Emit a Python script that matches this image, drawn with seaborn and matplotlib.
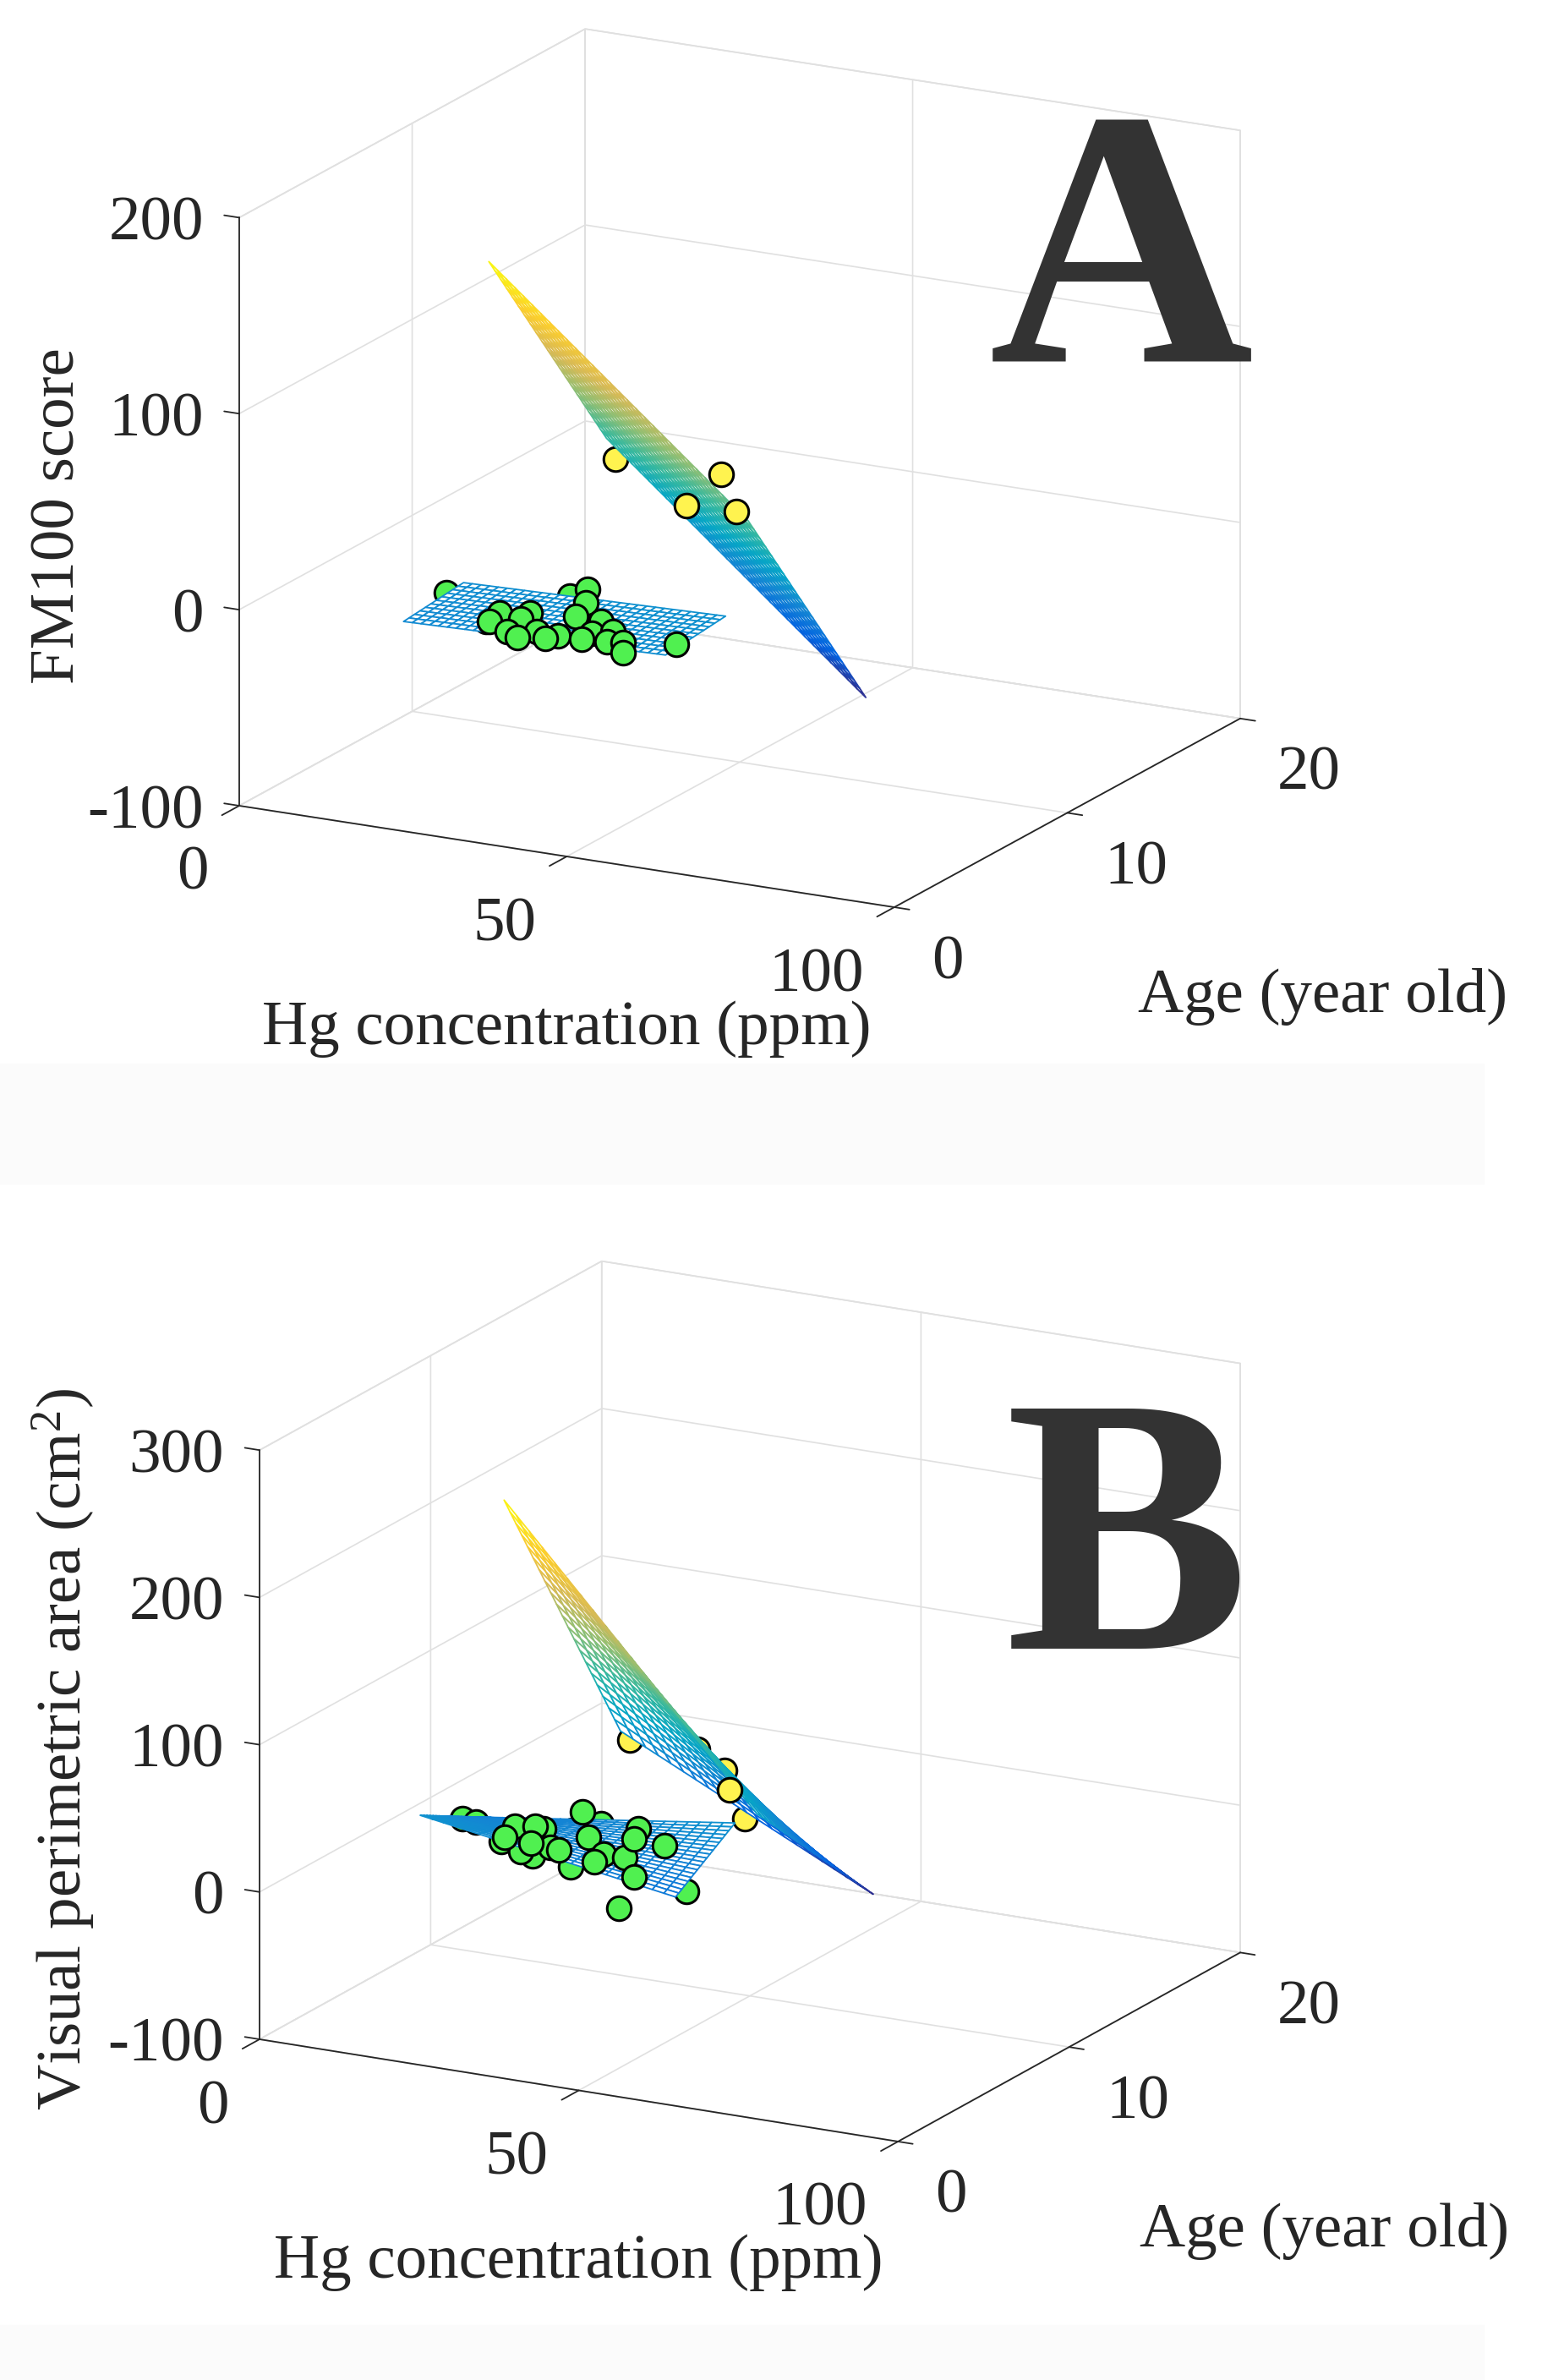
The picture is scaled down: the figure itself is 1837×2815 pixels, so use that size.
import numpy as np
import matplotlib
matplotlib.use("Agg")
import matplotlib.pyplot as plt
import seaborn as sns
from matplotlib.colors import Normalize
from matplotlib.ticker import NullFormatter
from matplotlib.transforms import offset_copy
from matplotlib.patches import Rectangle

#%% data
# green group: Hg (ppm), age (year old), FM100 score, visual perimetric area (cm2)
green_hg = [18.8, 23.3, 31.9, 31.2, 35.4, 35.0, 35.8, 38.6, 39.6, 42.4, 43.4, 36.7, 34.8, 38.1,
            40.6, 42.0, 46.8, 46.8, 45.8, 50.6, 49.6, 53.1, 55.2, 46.4, 52.6, 60.2, 34.7, 28.5]
green_age = [4.86, 3.97, 2.40, 3.26, 2.89, 3.54, 1.92, 1.44, 2.20, 1.65, 1.98, 4.61, 5.91, 5.73,
             4.67, 3.56, 2.08, 2.66, 3.59, 2.11, 2.82, 2.07, 1.30, 4.84, 4.05, 2.47, 3.00, 3.50]
green_fm100 = [-4.9, -6.3, -1.0, -1.2, -0.2, -0.6, -2.0, -1.2, -1.4, -0.7, -0.3, -3.5, -3.5, 2.6,
               1.9, 1.0, -0.9, -0.4, 0.4, -0.5, 1.0, 0.7, 0.2, -3.4, -3.6, 1.7, -8.0, -8.0]
green_vpa = [31.5, 38.5, 44.0, 45.4, 50.6, 44.5, 40.0, 50.7, 43.6, 47.2, 34.6, 37.6, 40.4, 36.1,
             38.3, 43.3, 39.8, 41.1, 39.0, 10.7, 39.9, 59.5, 40.1, 43.9, 41.7, 26.5, 29.4, 31.6]

# yellow group
yellow_hg = [20.4, 68.8, 43.4, 48.7, 64.1]
yellow_age = [14.04, 1.81, 9.42, 8.99, 4.44]
yellow_fm100 = [20.0, 96.1, 30.3, 31.2, 61.8]
yellow_vpa = [27.1, 105.5, 66.5, 58.7, 66.0]

# fitted surfaces z = c0 + c1*dHg + c2*dAge + c3*dHg*dAge over each group's range
green_hg_range = [19.8, 59.8]
green_age_range = [2.0, 5.47]
yellow_hg_range = [24.9, 64.5]
yellow_age_range = [5.0, 11.8]
fm100_green_coef = [-5.4, 0.09, 0.9, 0.0]
fm100_yellow_coef = [166.4, -2.823, -18.06, 0.0]
vpa_green_coef = [53.0, -0.6925, -6.77, 0.371]
vpa_yellow_coef = [251.3, -4.682, -29.47, 0.379]

hg_ticks = [0, 50, 100]
age_ticks = [0, 10, 20]
fm100_ticks = [-100, 0, 100, 200]
vpa_ticks = [-100, 0, 100, 200, 300]

#%% style
sns.set_theme(style="white")
plt.rcParams["font.family"] = ["Liberation Serif", "DejaVu Serif"]
plt.rcParams["mathtext.fontset"] = "custom"
plt.rcParams["mathtext.rm"] = "Liberation Serif"
plt.rcParams["mathtext.it"] = "Liberation Serif:italic"
plt.rcParams["grid.color"] = "#e0e0e0"
plt.rcParams["grid.linewidth"] = 1.2
plt.rcParams["grid.linestyle"] = "-"

parula = sns.blend_palette(["#352a87", "#0363e1", "#1485d4", "#06a7c6", "#38b99e",
                            "#92bf73", "#d9ba56", "#fcce2e", "#f9fb0e"], n_colors=256, as_cmap=True)
INK = "#262626"
FS = 54


def surf_z(coef, hg_rng, age_rng, hg, age):
    dx = np.asarray(hg) - hg_rng[0]
    dy = np.asarray(age) - age_rng[0]
    return coef[0] + coef[1] * dx + coef[2] * dy + coef[3] * dx * dy


def mesh(coef, hg_rng, age_rng, nx, ny):
    X, Y = np.meshgrid(np.linspace(*hg_rng, nx), np.linspace(*age_rng, ny))
    return X, Y, surf_z(coef, hg_rng, age_rng, X, Y)


def draw_mesh(ax, X, Y, Z, norm):
    s = ax.plot_surface(X, Y, Z, rstride=1, cstride=1, color="white", shade=False,
                        linewidth=1.3, antialiased=True, zorder=2)
    zc = 0.25 * (Z[:-1, :-1] + Z[1:, :-1] + Z[:-1, 1:] + Z[1:, 1:])
    s.set_facecolor("white")
    s.set_edgecolor(parula(norm(zc.ravel())))


def front_mask(hg, age, z, coef, hg_rng, age_rng, zr, box, elev, azim):
    hg, age, z = map(np.asarray, (hg, age, z))
    dx, dy = hg - hg_rng[0], age - age_rng[0]
    gx = coef[1] + coef[3] * dy
    gy = coef[2] + coef[3] * dx
    e, a = np.radians(elev), np.radians(azim)
    view = np.array([np.cos(e) * np.cos(a), np.cos(e) * np.sin(a), np.sin(e)])
    nd = (-gx * 100 / box[0]) * view[0] + (-gy * 20 / box[1]) * view[1] + (zr / box[2]) * view[2]
    return (z - surf_z(coef, hg_rng, age_rng, hg, age)) * nd > 0


def draw_points(ax, hg, age, z, color, front):
    hg, age, z = map(np.asarray, (hg, age, z))
    for mask, zo in ((~front, 1), (front, 3)):
        if mask.any():
            ax.scatter(hg[mask], age[mask], z[mask], s=420, c=color, edgecolors="black",
                       linewidths=2.2, depthshade=False, zorder=zo)


panels = [
    dict(z_green=green_fm100, z_yellow=yellow_fm100, c_green=fm100_green_coef,
         c_yellow=fm100_yellow_coef, zlim=(-100, 200), zticks=fm100_ticks,
         elev=16.9, azim=-61.95, box=(878, 870, 727), o=(283, 953), xy=(1467, 850),
         zlabel="FM100 score", zlab_dx=-195, letter="A", letter_xy=(1326, 429),
         n_green=(31, 12), n_yellow=(31, 21)),
    dict(z_green=green_vpa, z_yellow=yellow_vpa, c_green=vpa_green_coef,
         c_yellow=vpa_yellow_coef, zlim=(-100, 300), zticks=vpa_ticks,
         elev=17.3, azim=-61.7, box=(858, 854, 730), o=(307, 2412), xy=(1467, 2309),
         zlabel="Visual perimetric area (cm$^{2}$)", zlab_dx=-211, letter="B",
         letter_xy=(1333, 1949), n_green=(23, 20), n_yellow=(21, 21)),
]

fig = plt.figure(figsize=(18.37, 28.15), dpi=100)
fig.patch.set_facecolor("white")
W, H = 1837, 2815

# faint grey strips of the pasted panels
for y0, y1 in ((1258, 1400), (2750, 2815)):
    fig.patches.append(Rectangle((0, 1 - y1 / H), 1755 / W, (y1 - y0) / H,
                                 transform=fig.transFigure, color="#fbfbfb", zorder=-1))


def px_of(ax, x, y, z):
    M = ax.get_proj()
    v = M @ np.array([x, y, z, 1.0])
    d = ax.transData.transform((v[0] / v[3], v[1] / v[3]))
    return np.array([d[0], fig.bbox.height - d[1]])


def lbl(ax, x, y, z, s, dx, dv, **kw):
    tr = offset_copy(ax.transData, fig=fig, x=dx, y=-dv, units="dots")
    ax.text(x, y, z, s, transform=tr, fontsize=FS, color=INK, **kw)


axes = []
for i, p in enumerate(panels):
    ax = fig.add_axes([0.05, 0.52 - 0.5 * i, 0.9, 0.9 * W / H], projection="3d",
                      computed_zorder=False)
    ax.patch.set_alpha(0)
    ax.set_proj_type("ortho")
    ax.view_init(elev=p["elev"], azim=p["azim"])
    ax.set_box_aspect(p["box"])
    zlo, zhi = p["zlim"]
    ax.set_xlim(0, 100)
    ax.set_ylim(0, 20)
    ax.set_zlim(zlo, zhi)
    ax.set_xticks(hg_ticks)
    ax.set_yticks(age_ticks)
    ax.set_zticks(p["zticks"])
    ax.grid(True)
    for a in (ax.xaxis, ax.yaxis, ax.zaxis):
        a.set_major_formatter(NullFormatter())
        a.set_pane_color((1, 1, 1, 1))
        a.pane.set_edgecolor("#e0e0e0")
        a.pane.set_linewidth(1.2)
        a.line.set_color((1, 1, 1, 0))
        a.line.set_linewidth(0)
    for nm in ("x", "y", "z"):
        ax.tick_params(axis=nm, color=(1, 1, 1, 0), labelcolor=(1, 1, 1, 0))

    # surfaces
    Xg, Yg, Zg = mesh(p["c_green"], green_hg_range, green_age_range, *p["n_green"])
    Xy, Yy, Zy = mesh(p["c_yellow"], yellow_hg_range, yellow_age_range, *p["n_yellow"])
    norm = Normalize(min(Zg.min(), Zy.min()), max(Zg.max(), Zy.max()))
    draw_mesh(ax, Xy, Yy, Zy, norm)
    draw_mesh(ax, Xg, Yg, Zg, norm)

    # points
    zr = zhi - zlo
    fg = front_mask(green_hg, green_age, p["z_green"], p["c_green"], green_hg_range,
                    green_age_range, zr, p["box"], p["elev"], p["azim"])
    fy = front_mask(yellow_hg, yellow_age, p["z_yellow"], p["c_yellow"], yellow_hg_range,
                    yellow_age_range, zr, p["box"], p["elev"], p["azim"])
    draw_points(ax, green_hg, green_age, p["z_green"], "#50f050", fg)
    draw_points(ax, yellow_hg, yellow_age, p["z_yellow"], "#fff34f", fy)

    # axis lines and ticks
    kw = dict(color=INK, lw=1.3, zorder=4)
    ax.plot([0, 100], [0, 0], [zlo, zlo], **kw)
    ax.plot([100, 100], [0, 20], [zlo, zlo], **kw)
    ax.plot([0, 0], [0, 0], [zlo, zhi], **kw)
    for t in hg_ticks:
        ax.plot([t, t], [0, -1.0], [zlo, zlo], **kw)
        lbl(ax, t, 0, zlo, str(t), -36, 99, ha="right", va="baseline")
    for t in age_ticks:
        ax.plot([100, 102.3], [t, t], [zlo, zlo], **kw)
        lbl(ax, 100, t, zlo, str(t), 44, 84, ha="left", va="baseline")
    for t in p["zticks"]:
        ax.plot([0, -2.3], [0, 0], [t, t], **kw)
        lbl(ax, 0, 0, t, str(t), -42, 26, ha="right", va="baseline")
    lbl(ax, 50, 0, zlo, "Hg concentration (ppm)", 0, 222, ha="center", va="baseline")
    lbl(ax, 100, 10, zlo, "Age (year old)", 302, 236, ha="center", va="baseline")
    lbl(ax, 0, 0, 0.5 * (zlo + zhi), p["zlabel"], p["zlab_dx"], 5, ha="center",
        va="baseline", zdir="z", rotation_mode="anchor")

    fig.text(p["letter_xy"][0] / W, 1 - p["letter_xy"][1] / H, p["letter"], fontsize=312,
             fontweight="bold", color="#333333", ha="center", va="baseline")
    axes.append(ax)

# place each 3D box where the reference has it
for _ in range(3):
    fig.canvas.draw()
    for ax, p in zip(axes, panels):
        zlo = p["zlim"][0]
        o = px_of(ax, 0, 0, zlo)
        r = px_of(ax, 100, 20, zlo)
        k = np.linalg.norm(np.subtract(p["xy"], p["o"])) / np.linalg.norm(r - o)
        bb = ax.get_position()
        cx = (bb.x0 + bb.width / 2) * W
        cy = H - (bb.y0 + bb.height / 2) * H
        size = bb.width * W * k
        ncx = p["o"][0] - k * (o[0] - cx)
        ncy = p["o"][1] - k * (o[1] - cy)
        ax.set_position([(ncx - size / 2) / W, 1 - (ncy + size / 2) / H, size / W, size / H])

fig.savefig("out.png", dpi=100, facecolor="white")
